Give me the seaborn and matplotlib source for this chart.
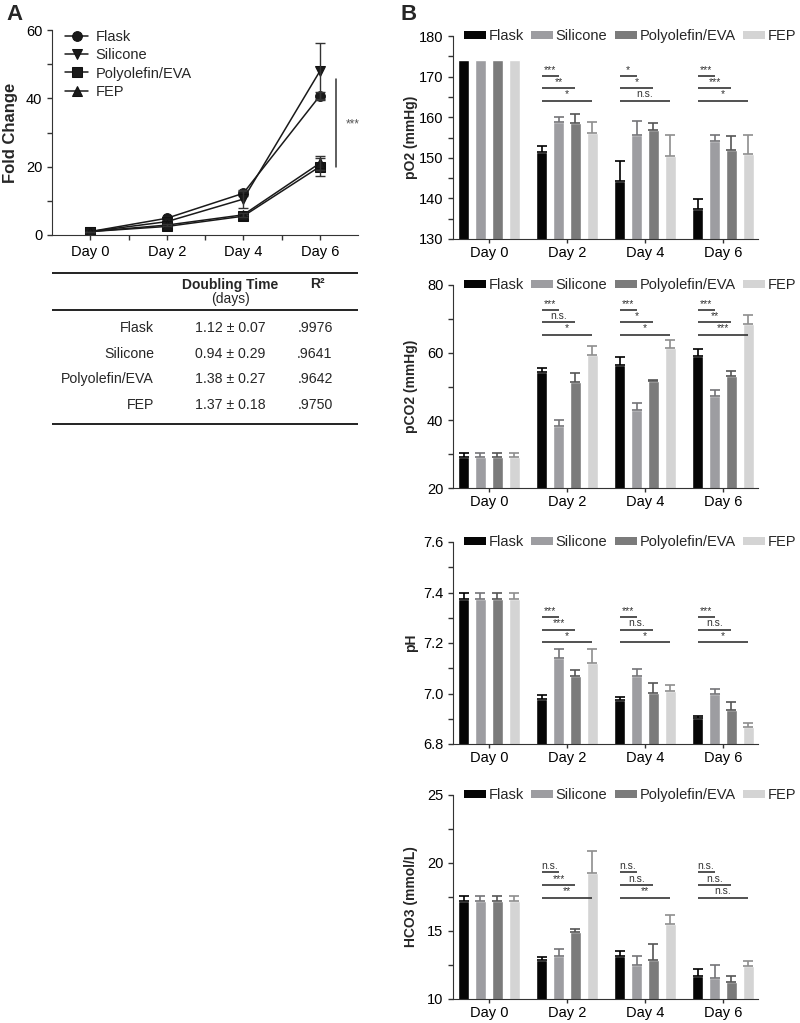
import numpy as np
import pandas as pd
import matplotlib.pyplot as plt
import seaborn as sns
from matplotlib.patches import Patch
from matplotlib.ticker import MultipleLocator, FormatStrFormatter

sns.set_style("ticks")
plt.rcParams['font.family'] = ['Liberation Sans', 'DejaVu Sans']
plt.rcParams['axes.edgecolor'] = '#333333'
plt.rcParams['xtick.color'] = '#333333'
plt.rcParams['ytick.color'] = '#333333'
plt.rcParams['xtick.labelcolor'] = 'black'
plt.rcParams['ytick.labelcolor'] = 'black'

materials = ["Flask", "Silicone", "Polyolefin/EVA", "FEP"]
days = ["Day 0", "Day 2", "Day 4", "Day 6"]
day_nums = [0, 2, 4, 6]

# panel A - fold change
fold_mean = [[1, 4.9, 12.2, 40.7],
             [1, 3.9, 10.5, 47.9],
             [1, 2.5, 5.5, 20.0],
             [1, 2.9, 5.9, 21.0]]
fold_err = [[0, 0.4, 0.8, 1.1],
            [0, 0.3, 2.7, 8.2],
            [0, 0.3, 0.5, 2.6],
            [0, 0.3, 0.6, 2.0]]
fold_markers = ["o", "v", "s", "^"]

# doubling time table
dt_mean = [1.12, 0.94, 1.38, 1.37]
dt_sd = [0.07, 0.29, 0.27, 0.18]
r_squared = [0.9976, 0.9641, 0.9642, 0.9750]

# panel B - blood gas values (rows = materials, cols = days)
po2_mean = [[174, 151.5, 144.2, 137.5],
            [174, 158.9, 155.5, 154.1],
            [174, 158.5, 156.8, 151.8],
            [174, 156.2, 150.5, 150.9]]
po2_err = [[0, 1.4, 5.0, 2.3],
           [0, 1.1, 3.6, 1.6],
           [0, 2.2, 1.8, 3.6],
           [0, 2.6, 5.2, 4.6]]
pco2_mean = [[29.3, 54.2, 56.5, 59.1],
             [29.3, 38.4, 43.1, 47.1],
             [29.3, 51.4, 51.7, 53.1],
             [29.3, 59.2, 61.4, 68.6]]
pco2_err = [[1.0, 1.4, 2.1, 1.9],
            [1.0, 1.8, 1.9, 1.9],
            [1.0, 2.5, 0.3, 1.6],
            [1.0, 2.9, 2.3, 2.4]]
ph_mean = [[7.376, 6.980, 6.975, 6.904],
           [7.376, 7.141, 7.069, 6.999],
           [7.376, 7.070, 7.002, 6.935],
           [7.376, 7.121, 7.009, 6.867]]
ph_err = [[0.024, 0.014, 0.012, 0.008],
          [0.024, 0.035, 0.027, 0.020],
          [0.024, 0.023, 0.038, 0.030],
          [0.024, 0.057, 0.023, 0.017]]
hco3_mean = [[17.2, 12.85, 13.17, 11.68],
             [17.2, 13.15, 12.49, 11.54],
             [17.2, 14.95, 12.85, 11.27],
             [17.2, 19.27, 15.54, 12.46]]
hco3_err = [[0.4, 0.25, 0.34, 0.52],
            [0.4, 0.51, 0.68, 0.95],
            [0.4, 0.22, 1.22, 0.44],
            [0.4, 1.58, 0.66, 0.30]]

# significance labels vs Flask (Silicone, Polyolefin/EVA, FEP) for Day 2/4/6
po2_sig = [["***", "**", "*"], ["*", "*", "n.s."], ["***", "***", "*"]]
pco2_sig = [["***", "n.s.", "*"], ["***", "*", "*"], ["***", "**", "***"]]
ph_sig = [["***", "***", "*"], ["***", "n.s.", "*"], ["***", "n.s.", "*"]]
hco3_sig = [["n.s.", "***", "**"], ["n.s.", "n.s.", "**"], ["n.s.", "n.s.", "n.s."]]
po2_sig_y = [170.1, 167.1, 164.1]
pco2_sig_y = [72.6, 69.0, 65.3]
ph_sig_y = [7.303, 7.253, 7.203]
hco3_sig_y = [19.34, 18.37, 17.44]

bar_colors = ["#050505", "#9d9da1", "#7b7b7b", "#d4d4d4"]
err_colors = ["#000000", "#747478", "#555555", "#8e8e8e"]
ink = "#333333"

fig = plt.figure(figsize=(8, 10.23), dpi=100)
H = 1023.0
W = 800.0


def px_axes(left, top, right, bottom):
    return fig.add_axes([left / W, 1 - bottom / H, (right - left) / W, (bottom - top) / H])


# ---------------- Panel A: growth curves ----------------
axA = px_axes(52, 30, 358, 235)
for m, mk, vals, errs in zip(materials, fold_markers, fold_mean, fold_err):
    sns.lineplot(x=day_nums, y=vals, marker=mk, markersize=7, color="#1a1a1a",
                 markeredgecolor="#111111", linewidth=1.1, label=m, ax=axA)
    axA.errorbar(day_nums, vals, yerr=errs, fmt="none", ecolor="#333333",
                 elinewidth=1.0, capsize=3.5, capthick=1.0)
axA.set_xlim(-1, 7)
axA.set_ylim(0, 60)
axA.set_xticks(day_nums)
axA.set_xticklabels(days, fontsize=10.5)
axA.set_xticks([1, 3, 5], minor=True)
axA.yaxis.set_major_locator(MultipleLocator(20))
axA.yaxis.set_minor_locator(MultipleLocator(10))
axA.tick_params(axis="y", labelsize=10.5)
axA.tick_params(which="both", length=3.5, width=1)
axA.set_ylabel("Fold Change", fontsize=12, fontweight="bold")
axA.yaxis.set_label_coords(-0.111, 0.5)
axA.set_xlabel("")
sns.despine(ax=axA)
axA.legend(loc="upper left", bbox_to_anchor=(0.0, 1.065), frameon=False,
           fontsize=10.5, handlelength=1.6, handletextpad=0.5, labelspacing=0.3)
# significance between groups at day 6
axA.plot([6.42, 6.42], [20, 45.7], color=ink, lw=1.1)
axA.text(6.85, 32.5, "***", ha="center", va="center", fontsize=8.5, color="#555555")

fig.text(6 / W, 1 - 15 / H, "A", fontsize=16, fontweight="bold", va="center", ha="left")
fig.text(400 / W, 1 - 15 / H, "B", fontsize=16, fontweight="bold", va="center", ha="left")

# ---------------- Doubling time table ----------------
axT = px_axes(52, 268, 358, 428)
axT.set_xlim(52, 358)
axT.set_ylim(428, 268)
axT.axis("off")
for yl in [273, 310, 424]:
    axT.plot([52, 358], [yl, yl], color="#222222", lw=1.4)
axT.text(230, 285, "Doubling Time", ha="center", va="center", fontsize=10, fontweight="bold")
axT.text(230, 299, "(days)", ha="center", va="center", fontsize=10)
axT.text(317, 284, "R²", ha="center", va="center", fontsize=10, fontweight="bold")
for i, m in enumerate(materials):
    yy = 328 + i * 25.7
    axT.text(154, yy, m, ha="right", va="center", fontsize=10.2)
    axT.text(230, yy, f"{dt_mean[i]:.2f} ± {dt_sd[i]:.2f}", ha="center", va="center", fontsize=10.2)
    axT.text(315, yy, f"{r_squared[i]:.4f}"[1:], ha="center", va="center", fontsize=10.2)


# ---------------- Panel B: bar charts ----------------
def bar_panel(ax, means, errs, sigs, sig_y, ylim, major, minor, ylabel, fmt):
    df = pd.DataFrame([(d, m, v) for m, row in zip(materials, means) for d, v in zip(days, row)],
                      columns=["day", "material", "value"])
    sns.barplot(data=df, x="day", y="value", hue="material", order=days, hue_order=materials,
                palette=bar_colors, width=0.86, gap=0.34, errorbar=None, saturation=1,
                legend=False, ax=ax)
    centers = []
    for cont, err_row, ec in zip(ax.containers, errs, err_colors):
        xs = [b.get_x() + b.get_width() / 2 for b in cont]
        hs = [b.get_height() for b in cont]
        centers.append(xs)
        for x, h, e in zip(xs, hs, err_row):
            if e > 0:
                ax.errorbar([x], [h], yerr=[[0], [e]], fmt="none", ecolor=ec,
                            elinewidth=1.2, capsize=3.5, capthick=1.2)
    # brackets Flask vs others for Day 2, 4, 6
    for di, labels in enumerate(sigs, start=1):
        x0 = centers[0][di]
        for k, (lab, yv) in enumerate(zip(labels, sig_y), start=1):
            x1 = centers[k][di]
            ax.plot([x0, x1], [yv, yv], color=ink, lw=1.2, solid_capstyle="butt")
            ax.annotate(lab, ((x0 + x1) / 2, yv), xytext=(0, 1.0), textcoords="offset points",
                        ha="center", va="bottom", fontsize=7.5, color="#333333")
    ax.set_xlim(-0.46, 3.45)
    ax.set_ylim(*ylim)
    ax.yaxis.set_major_locator(MultipleLocator(major))
    ax.yaxis.set_minor_locator(MultipleLocator(minor))
    ax.yaxis.set_major_formatter(FormatStrFormatter(fmt))
    ax.tick_params(axis="both", labelsize=10.5)
    ax.tick_params(which="both", length=3.5, width=1)
    ax.tick_params(axis="x", length=3, pad=2)
    ax.set_xlabel("")
    ax.set_ylabel(ylabel, fontsize=10, fontweight="bold")
    ax.yaxis.set_label_coords(-0.115, 0.5)
    sns.despine(ax=ax)
    handles = [Patch(facecolor=c, edgecolor="none") for c in bar_colors]
    ax.legend(handles, materials, ncol=4, loc="center left", bbox_to_anchor=(0.035, 1.0),
              frameon=False, fontsize=10.5, borderpad=0, borderaxespad=0,
              handlelength=1.5, handleheight=0.5, handletextpad=0.2, columnspacing=0.5)


ax1 = px_axes(453, 36, 758, 239)
bar_panel(ax1, po2_mean, po2_err, po2_sig, po2_sig_y, (130, 180), 10, 5, "pO2 (mmHg)", "%d")
ax2 = px_axes(453, 285, 758, 488)
bar_panel(ax2, pco2_mean, pco2_err, pco2_sig, pco2_sig_y, (20, 80), 20, 10, "pCO2 (mmHg)", "%d")
ax3 = px_axes(453, 542, 758, 744)
bar_panel(ax3, ph_mean, ph_err, ph_sig, ph_sig_y, (6.8, 7.6), 0.2, 0.1, "pH", "%.1f")
ax4 = px_axes(453, 795, 758, 999)
bar_panel(ax4, hco3_mean, hco3_err, hco3_sig, hco3_sig_y, (10, 25), 5, 2.5, "HCO3 (mmol/L)", "%d")

fig.savefig("out.png", dpi=100, facecolor="w")
